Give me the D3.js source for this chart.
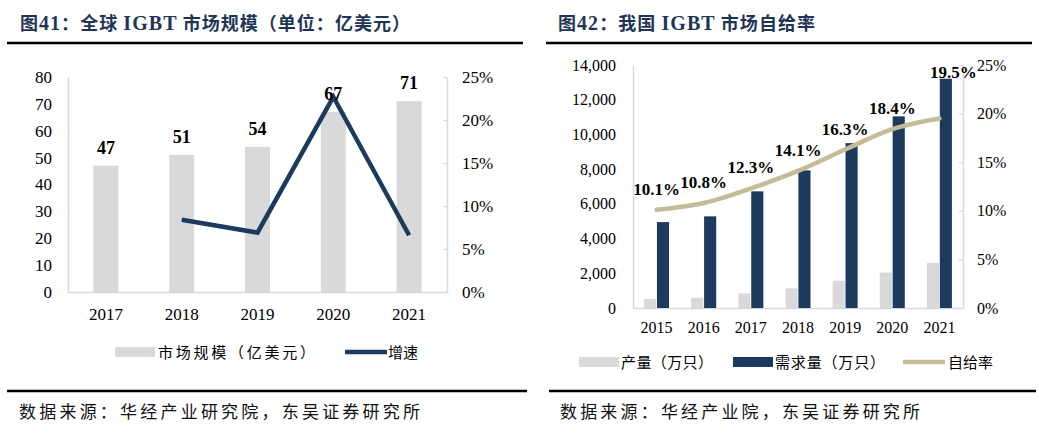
<!DOCTYPE html>
<html>
<head>
<meta charset="utf-8">
<script src="https://cdn.jsdelivr.net/npm/d3@7/dist/d3.min.js"></script>
<style>
  body { margin: 0; background: #fff; }
  .num { font-family: "Liberation Serif", "Times New Roman", serif; fill: #000; }
  .cjk { font-family: "Noto Sans CJK SC", sans-serif; }
  .ser { font-family: "Liberation Serif", "Times New Roman", serif; }
</style>
</head>
<body>
<div id="chart"></div>
<script>
// ---- data: left chart (global IGBT market)
var yearsL = ["2017", "2018", "2019", "2020", "2021"];
var marketSize = [47, 51, 54, 67, 71];            // 亿美元
var marketGrowth = [null, 0.084, 0.069, 0.227, 0.066];
var ticksL = [0, 10, 20, 30, 40, 50, 60, 70, 80];
var ticksLR = [0, 0.05, 0.10, 0.15, 0.20, 0.25];

// ---- data: right chart (China IGBT self-sufficiency)
var yearsR = ["2015", "2016", "2017", "2018", "2019", "2020", "2021"];
var output = [520, 590, 840, 1130, 1570, 2040, 2600];          // 万只
var demand = [4950, 5280, 6720, 7930, 9500, 11040, 13210];     // 万只
var selfRate = [0.101, 0.108, 0.123, 0.141, 0.163, 0.184, 0.195];
var ticksR = [0, 2000, 4000, 6000, 8000, 10000, 12000, 14000];
var ticksRR = [0, 0.05, 0.10, 0.15, 0.20, 0.25];

var navy = "#1c3a5e";
var gray = "#d9d9d9";
var tan = "#c4bc98";
var axisGray = "#d9d9d9";

var svg = d3.select("#chart").append("svg")
  .attr("width", 1039)
  .attr("height", 436);

// titles and rules; parts = [text, isSerif]
function header(x, parts, len, x1, x2) {
  var t = svg.append("text")
    .attr("class", "cjk")
    .attr("x", x).attr("y", 30)
    .attr("font-size", 18).attr("font-weight", "bold")
    .attr("fill", "#1f3557")
    .attr("textLength", len).attr("lengthAdjust", "spacing");
  parts.forEach(function (p) {
    t.append("tspan")
      .attr("class", p[1] ? "ser" : "cjk")
      .attr("font-size", p[1] ? 20 : 18)
      .text(p[0]);
  });
  svg.append("line")
    .attr("x1", x1).attr("x2", x2).attr("y1", 43).attr("y2", 43)
    .attr("stroke", "#000").attr("stroke-width", 2.5);
}
header(20, [["图", 0], ["41", 1], ["：全球 ", 0], ["IGBT", 1], [" 市场规模（单位：亿美元）", 0]], 390, 7, 523);
header(558, [["图", 0], ["42", 1], ["：我国 ", 0], ["IGBT", 1], [" 市场自给率", 0]], 257, 546, 1032);

function footer(x, text, len, x1, x2) {
  svg.append("line")
    .attr("x1", x1).attr("x2", x2).attr("y1", 391).attr("y2", 391)
    .attr("stroke", "#000").attr("stroke-width", 2.5);
  svg.append("text")
    .attr("class", "cjk")
    .attr("x", x).attr("y", 418)
    .attr("font-size", 17)
    .attr("fill", "#111")
    .attr("textLength", len).attr("lengthAdjust", "spacing")
    .text(text);
}
footer(19, "数据来源：华经产业研究院，东吴证券研究所", 401, 7, 527);
footer(560, "数据来源：华经产业院，东吴证券研究所", 360, 549, 1036);

function styleAxis(g, size) {
  g.select(".domain").attr("stroke", axisGray).attr("stroke-width", 1.5);
  g.selectAll(".tick line").attr("stroke", axisGray).attr("stroke-width", 1.2);
  g.selectAll(".tick text")
    .attr("class", "num")
    .attr("font-size", size)
    .attr("fill", "#000");
  g.attr("font-family", null);
}

// ================= left chart =================
var xL = d3.scaleBand().domain(yearsL).range([68, 447])
  .paddingInner(0.67).paddingOuter(0.335);
var yL = d3.scaleLinear().domain([0, 80]).range([292, 77]);
var yLR = d3.scaleLinear().domain([0, 0.25]).range([292, 77]);

var gL = svg.append("g");

gL.append("g")
  .attr("transform", "translate(68,0)")
  .call(d3.axisLeft(yL).tickValues(ticksL).tickSize(0).tickPadding(16))
  .call(styleAxis, 17);

gL.append("g")
  .attr("transform", "translate(447,0)")
  .call(d3.axisRight(yLR).tickValues(ticksLR).tickSizeInner(-4).tickSizeOuter(0)
    .tickPadding(15).tickFormat(d3.format(".0%")))
  .call(styleAxis, 17);

gL.append("g")
  .attr("transform", "translate(0,292)")
  .call(d3.axisBottom(xL).tickSize(0).tickPadding(16))
  .call(styleAxis, 17);

gL.selectAll("rect.bar")
  .data(marketSize)
  .enter()
  .append("rect")
  .attr("class", "bar")
  .attr("x", (d, i) => xL(yearsL[i]))
  .attr("width", xL.bandwidth())
  .attr("y", d => yL(d))
  .attr("height", d => yL(0) - yL(d))
  .attr("fill", gray);

var lineL = d3.line()
  .defined(d => d != null)
  .x((d, i) => xL(yearsL[i]) + xL.bandwidth() / 2)
  .y(d => yLR(d));

gL.append("path")
  .datum(marketGrowth)
  .attr("d", lineL)
  .attr("fill", "none")
  .attr("stroke", navy)
  .attr("stroke-width", 4.5)
  .attr("stroke-linejoin", "miter");

gL.selectAll("text.lbl")
  .data(marketSize)
  .enter()
  .append("text")
  .attr("class", "num lbl")
  .attr("x", (d, i) => xL(yearsL[i]) + xL.bandwidth() / 2)
  .attr("y", d => yL(d) - 12)
  .attr("text-anchor", "middle")
  .attr("font-size", 18)
  .attr("font-weight", "bold")
  .text(d => d);

// legend left
gL.append("rect").attr("x", 115).attr("y", 347).attr("width", 40).attr("height", 10).attr("fill", gray);
gL.append("text").attr("class", "cjk").attr("x", 158).attr("y", 358)
  .attr("font-size", 15).attr("textLength", 157).attr("lengthAdjust", "spacing")
  .text("市场规模（亿美元）");
gL.append("line").attr("x1", 345).attr("x2", 387).attr("y1", 352).attr("y2", 352)
  .attr("stroke", navy).attr("stroke-width", 4.5);
gL.append("text").attr("class", "cjk").attr("x", 388).attr("y", 358)
  .attr("font-size", 15)
  .text("增速");

// ================= right chart =================
var xR = d3.scaleBand().domain(yearsR).range([633, 963])
  .paddingInner(0.47).paddingOuter(0.235);
var xSub = d3.scaleBand().domain(["output", "demand"]).range([0, xR.bandwidth()]).paddingInner(0.06);
var yR = d3.scaleLinear().domain([0, 14000]).range([308, 65]);
var yRR = d3.scaleLinear().domain([0, 0.25]).range([308, 65]);

var gR = svg.append("g");

gR.append("g")
  .attr("transform", "translate(633,0)")
  .call(d3.axisLeft(yR).tickValues(ticksR).tickSize(0).tickPadding(17).tickFormat(d3.format(",")))
  .call(styleAxis, 16);

gR.append("g")
  .attr("transform", "translate(963,0)")
  .call(d3.axisRight(yRR).tickValues(ticksRR).tickSizeInner(-4).tickSizeOuter(0)
    .tickPadding(14).tickFormat(d3.format(".0%")))
  .call(styleAxis, 16);

gR.append("g")
  .attr("transform", "translate(0,308)")
  .call(d3.axisBottom(xR).tickSize(0).tickPadding(14))
  .call(styleAxis, 16);

gR.selectAll("rect.out")
  .data(output)
  .enter()
  .append("rect")
  .attr("class", "out")
  .attr("x", (d, i) => xR(yearsR[i]) + xSub("output"))
  .attr("width", xSub.bandwidth())
  .attr("y", d => yR(d))
  .attr("height", d => yR(0) - yR(d))
  .attr("fill", gray);

gR.selectAll("rect.dem")
  .data(demand)
  .enter()
  .append("rect")
  .attr("class", "dem")
  .attr("x", (d, i) => xR(yearsR[i]) + xSub("demand"))
  .attr("width", xSub.bandwidth())
  .attr("y", d => yR(d))
  .attr("height", d => yR(0) - yR(d))
  .attr("fill", navy);

var lineR = d3.line()
  .x((d, i) => xR(yearsR[i]) + xR.bandwidth() / 2)
  .y(d => yRR(d))
  .curve(d3.curveMonotoneX);

gR.append("path")
  .datum(selfRate)
  .attr("d", lineR)
  .attr("fill", "none")
  .attr("stroke", tan)
  .attr("stroke-width", 4.5)
  .attr("stroke-linecap", "round");

var last = selfRate.length - 1;
gR.selectAll("text.lbl")
  .data(selfRate)
  .enter()
  .append("text")
  .attr("class", "num lbl")
  .attr("x", (d, i) => xR(yearsR[i]) + xR.bandwidth() / 2 + (i === last ? 14 : 0))
  .attr("y", (d, i) => i === last ? yR(demand[i]) - 1 : yRR(d) - 15)
  .attr("text-anchor", "middle")
  .attr("font-size", 17)
  .attr("font-weight", "bold")
  .text(d => d3.format(".1%")(d));

// legend right
gR.append("rect").attr("x", 579).attr("y", 357).attr("width", 40).attr("height", 10).attr("fill", gray);
gR.append("text").attr("class", "cjk").attr("x", 621).attr("y", 368)
  .attr("font-size", 15).attr("textLength", 92).attr("lengthAdjust", "spacing")
  .text("产量（万只）");
gR.append("rect").attr("x", 733).attr("y", 357).attr("width", 40).attr("height", 10).attr("fill", navy);
gR.append("text").attr("class", "cjk").attr("x", 775).attr("y", 368)
  .attr("font-size", 15).attr("textLength", 110).attr("lengthAdjust", "spacing")
  .text("需求量（万只）");
gR.append("line").attr("x1", 903).attr("x2", 945).attr("y1", 362).attr("y2", 362)
  .attr("stroke", tan).attr("stroke-width", 4.5);
gR.append("text").attr("class", "cjk").attr("x", 948).attr("y", 368)
  .attr("font-size", 15)
  .text("自给率");
</script>
</body>
</html>
